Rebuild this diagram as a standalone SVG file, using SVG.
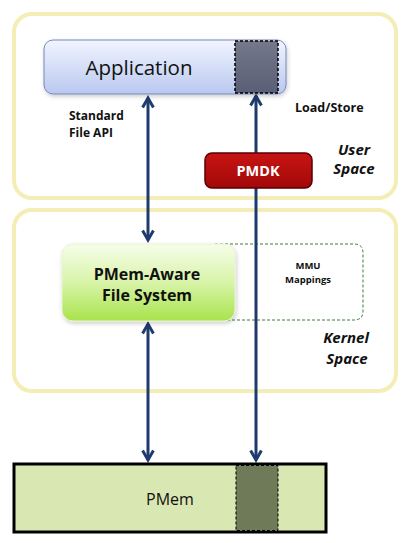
<svg xmlns="http://www.w3.org/2000/svg" width="409" height="543" viewBox="0 0 409 543">
<defs>
<linearGradient id="gApp" x1="0" y1="0" x2="0" y2="1">
<stop offset="0" stop-color="#f2f5ff"/>
<stop offset="1" stop-color="#b9c8f0"/>
</linearGradient>
<linearGradient id="gGray" x1="0" y1="0" x2="0" y2="1">
<stop offset="0" stop-color="#74788a"/>
<stop offset="1" stop-color="#5a5f76"/>
</linearGradient>
<linearGradient id="gFs" x1="0" y1="0" x2="0" y2="1">
<stop offset="0" stop-color="#f6fdea"/>
<stop offset="0.5" stop-color="#d8f4a8"/>
<stop offset="1" stop-color="#a8e34c"/>
</linearGradient>
<linearGradient id="gPmdk" x1="0" y1="0" x2="0" y2="1">
<stop offset="0" stop-color="#c81414"/>
<stop offset="1" stop-color="#a20808"/>
</linearGradient>
<marker id="ah" viewBox="0 0 10 10" refX="8" refY="5" markerWidth="4.5" markerHeight="4.5" orient="auto-start-reverse" markerUnits="strokeWidth">
<path d="M1,1 L8,5 L1,9" fill="none" stroke="#1f3a6e" stroke-width="2.2"/>
</marker>
<filter id="sh" x="-10%" y="-10%" width="130%" height="140%">
<feDropShadow dx="1" dy="2" stdDeviation="2" flood-color="#000" flood-opacity="0.2"/>
</filter>
</defs>
<style>
.zone{fill:#fff;stroke:#f4eeb6;stroke-width:4}
.lbl{font-family:"Open Sans","Liberation Sans",sans-serif;font-weight:bold;fill:#111}
.it{font-family:"Open Sans","Liberation Sans",sans-serif;font-weight:bold;font-style:italic;fill:#111;font-size:15px}
.conn{stroke:#1f3a6e;stroke-width:3;fill:none;marker-start:url(#ah);marker-end:url(#ah)}
</style>
<rect width="409" height="543" fill="#fff"/>
<g id="user-space">
<rect class="zone" x="14" y="14" width="382" height="184" rx="18"/>
<text class="it" x="354" y="155" text-anchor="middle">User</text>
<text class="it" x="354" y="174" text-anchor="middle">Space</text>
</g>
<g id="kernel-space">
<rect class="zone" x="14" y="210" width="382" height="181" rx="18"/>
<text class="it" x="346" y="343" text-anchor="middle" font-size="16">Kernel</text>
<text class="it" x="347" y="364" text-anchor="middle" font-size="16">Space</text>
</g>
<g id="mmu-mappings">
<path d="M215,244 H354 Q363,244 363,253 V311 Q363,320 354,320 H215" fill="none" stroke="#3a7a3a" stroke-width="1" stroke-dasharray="3,2"/>
<text class="lbl" x="308" y="269" text-anchor="middle" font-size="9.5">MMU</text>
<text class="lbl" x="308" y="283" text-anchor="middle" font-size="9.5">Mappings</text>
</g>
<g id="connectors">
<line class="conn" x1="148" y1="98" x2="148" y2="240"/>
<line class="conn" x1="148" y1="324" x2="148" y2="460"/>
<line class="conn" x1="256" y1="96" x2="256" y2="460"/>
</g>
<g id="application">
<rect x="44" y="40" width="242" height="54" rx="9" fill="url(#gApp)" stroke="#7688b8" stroke-width="1" filter="url(#sh)"/>
<rect x="235" y="41" width="43" height="52" fill="url(#gGray)" stroke="#000" stroke-width="1.5" stroke-dasharray="3,2"/>
<text x="139" y="75" text-anchor="middle" font-family="'Open Sans','Liberation Sans',sans-serif" font-size="20.5" fill="#111">Application</text>
</g>
<g id="labels">
<text class="lbl" x="69" y="120" font-size="12">Standard</text>
<text class="lbl" x="69" y="137" font-size="12">File API</text>
<text class="lbl" x="295" y="112" font-size="12.5">Load/Store</text>
</g>
<g id="pmdk">
<rect x="205" y="153" width="107" height="35" rx="7" fill="url(#gPmdk)" stroke="#5a0000" stroke-width="1.5"/>
<text class="lbl" x="258" y="176" text-anchor="middle" font-size="14.5" style="fill:#fff">PMDK</text>
</g>
<g id="pmem-fs">
<rect x="62" y="244" width="173" height="77" rx="11" fill="url(#gFs)" stroke="#e8f4d0" stroke-width="1" filter="url(#sh)"/>
<text class="lbl" x="147" y="280" text-anchor="middle" font-size="16">PMem-Aware</text>
<text class="lbl" x="147" y="301" text-anchor="middle" font-size="16">File System</text>
</g>
<g id="pmem">
<rect x="14" y="464" width="312" height="68" fill="#d9e7b3" stroke="#000" stroke-width="3"/>
<rect x="236" y="465.5" width="42" height="65" fill="#6e7a58" stroke="#000" stroke-width="1" stroke-dasharray="3,2"/>
<text x="170" y="505" text-anchor="middle" font-family="'Open Sans','Liberation Sans',sans-serif" font-size="16" fill="#111">PMem</text>
</g>
</svg>
